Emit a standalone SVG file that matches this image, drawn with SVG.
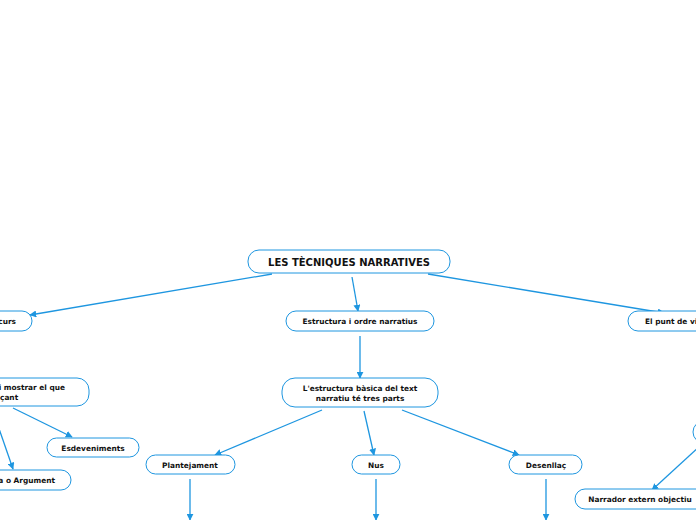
<svg xmlns="http://www.w3.org/2000/svg" width="696" height="520" viewBox="0 0 696 520">
<defs>
<marker id="ah" viewBox="0 0 10 10" refX="9" refY="5" markerWidth="7" markerHeight="7" markerUnits="userSpaceOnUse" orient="auto">
<path d="M0,0 L10,5 L0,10 z" fill="#1e96e0"/>
</marker>
<style>
.n{fill:#fff;stroke:#1e96e0;stroke-width:1}
.t{font-family:"DejaVu Sans",Verdana,sans-serif;font-weight:bold;font-size:7.4px;fill:#111}
.r{font-size:10px}
.e{fill:none;stroke:#1e96e0;stroke-width:1.3;marker-end:url(#ah)}
</style>
</defs>
<rect width="696" height="520" fill="#fff"/>
<g id="connectors">
<line class="e" x1="272" y1="274" x2="30" y2="315"/>
<line class="e" x1="352" y1="277" x2="358" y2="311"/>
<line class="e" x1="428" y1="274" x2="664" y2="313"/>
<line class="e" x1="360" y1="336" x2="360" y2="378"/>
<line class="e" x1="322" y1="410" x2="215" y2="455"/>
<line class="e" x1="364" y1="411" x2="374" y2="455"/>
<line class="e" x1="402" y1="410" x2="519" y2="455"/>
<line class="e" x1="190" y1="479" x2="190" y2="520"/>
<line class="e" x1="376" y1="479" x2="376" y2="520"/>
<line class="e" x1="546" y1="479" x2="546" y2="520"/>
<line class="e" x1="13" y1="408" x2="72" y2="437"/>
<line class="e" x1="-4" y1="420" x2="13" y2="469"/>
<line class="e" x1="700" y1="446" x2="652" y2="490"/>
</g>
<g id="root">
<rect class="n" x="248" y="250" width="202" height="23" rx="11"/>
<text class="t r" x="349" y="266" text-anchor="middle">LES TÈCNIQUES NARRATIVES</text>
</g>
<g id="discurs">
<rect class="n" x="-40" y="311" width="72" height="20" rx="10"/>
<text class="t" x="16" y="324" text-anchor="end">Temps del discurs</text>
</g>
<g id="estructura">
<rect class="n" x="286" y="311" width="148" height="20" rx="10"/>
<text class="t" x="360" y="324" text-anchor="middle">Estructura i ordre narratius</text>
</g>
<g id="punt">
<rect class="n" x="628" y="311" width="100" height="20" rx="10"/>
<text class="t" x="645" y="324">El punt de vista</text>
</g>
<g id="mostrar">
<rect class="n" x="-60" y="378" width="149" height="28" rx="12"/>
<text class="t" x="65" y="390" text-anchor="end">Narrar i mostrar el que</text>
<text class="t" x="0" y="400">çant</text>
</g>
<g id="esdeveniments">
<rect class="n" x="47" y="438" width="92" height="19" rx="9.5"/>
<text class="t" x="93" y="451" text-anchor="middle">Esdeveniments</text>
</g>
<g id="trama">
<rect class="n" x="-40" y="470" width="111" height="20" rx="10"/>
<text class="t" x="55" y="483" text-anchor="end">Trama o Argument</text>
</g>
<g id="basica">
<rect class="n" x="282" y="378" width="156" height="29" rx="13"/>
<text class="t" x="360" y="391" text-anchor="middle">L'estructura bàsica del text</text>
<text class="t" x="360" y="401" text-anchor="middle">narratiu té tres parts</text>
</g>
<g id="plantejament">
<rect class="n" x="146" y="455" width="89" height="19" rx="9.5"/>
<text class="t" x="190" y="468" text-anchor="middle">Plantejament</text>
</g>
<g id="nus">
<rect class="n" x="352" y="455" width="48" height="19" rx="9.5"/>
<text class="t" x="376" y="468" text-anchor="middle">Nus</text>
</g>
<g id="desenllac">
<rect class="n" x="509" y="455" width="73" height="19" rx="9.5"/>
<text class="t" x="546" y="468" text-anchor="middle">Desenllaç</text>
</g>
<g id="narrador">
<rect class="n" x="575" y="489" width="135" height="20" rx="10"/>
<text class="t" x="640" y="502" text-anchor="middle">Narrador extern objectiu</text>
</g>
<g id="punt-sub">
<rect class="n" x="693" y="421" width="60" height="22" rx="11"/>
</g>
</svg>
